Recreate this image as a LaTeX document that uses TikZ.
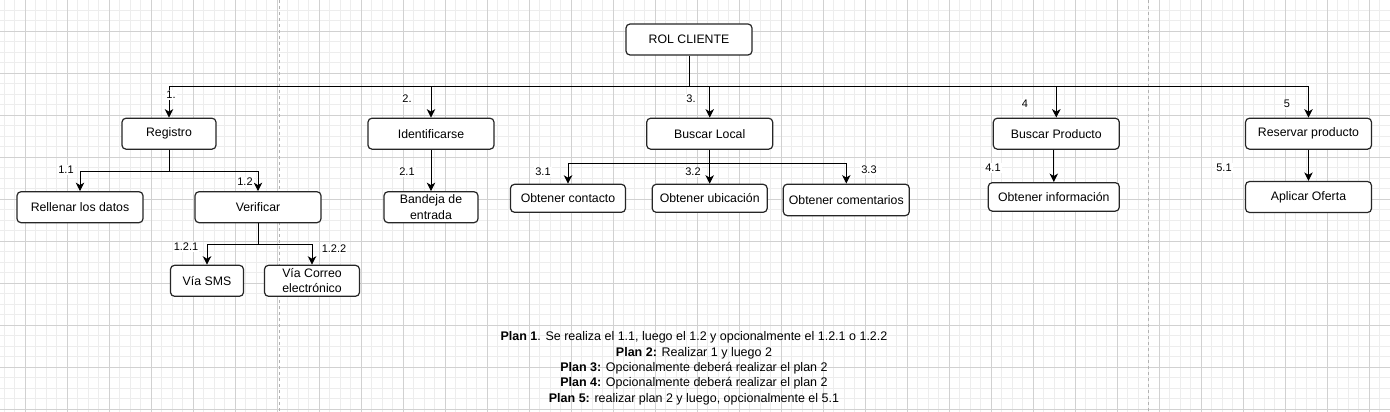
\documentclass[tikz,border=0pt]{standalone}
\usepackage{fontspec}
\setmainfont{Liberation Sans}
\usetikzlibrary{arrows.meta}

\begin{document}
\begin{tikzpicture}[x=1pt, y=-1pt, font=\fontsize{12.3}{15.4}\selectfont]
 % --- スタイルを定義 ---
 \tikzset{
    tarea/.style={
        rectangle,
        draw=black!85,
        line width=1.2pt,
        rounded corners=4pt,
        fill=white,
        minimum width=126pt,
        minimum height=31pt,
        inner sep=0pt,
        align=center
    },
    flecha/.style={
        draw=black,
        line width=1pt,
        -{Stealth[length=8.5pt, width=8.5pt, inset=2.5pt]}
    },
    linea/.style={
        draw=black,
        line width=1pt
    },
    etiqueta/.style={
        fill=white,
        inner sep=1pt,
        font=\fontsize{11}{13}\selectfont
    },
    menor/.style={draw=black!7, line width=0.8pt},
    mayor/.style={draw=black!18, line width=0.8pt},
    pagina/.style={draw=black!30, line width=1pt, dash pattern=on 3pt off 3pt}
 }

 % --- 背景(グリッド) ---
 \useasboundingbox (0,0) rectangle (1390,412);
 \fill[white] (0,0) rectangle (1390,412);
 \foreach \i in {0,...,132} \draw[menor] ({4+10.5*\i},0) -- ({4+10.5*\i},412);
 \foreach \j in {0,...,40} \draw[menor] (0,{-0.2+10.5*\j}) -- (1390,{-0.2+10.5*\j});
 \foreach \k in {0,...,32} \draw[mayor] ({25+42*\k},0) -- ({25+42*\k},412);
 \foreach \k in {0,...,9} \draw[mayor] (0,{31.3+42*\k}) -- (1390,{31.3+42*\k});
 % ページ区切り
 \draw[pagina] (279,0) -- (279,412);
 \draw[pagina] (1148,0) -- (1148,412);

 % --- タスクを配置 ---
 \node[tarea] (Rol) at (689,39.5) {ROL CLIENTE};

 % 第1レベル
 \node[tarea, minimum width=94pt] (Registro) at (169,133.7) {Registro};
 \node[tarea] (Identificarse) at (431,133.7) {Identificarse};
 \node[tarea] (BuscarLocal) at (709.7,133.7) {Buscar Local};
 \node[tarea] (BuscarProducto) at (1056.3,133.7) {Buscar Producto};
 \node[tarea] (Reservar) at (1308.5,133.7) {Reservar producto};

 % 第2レベル
 \node[tarea] (Rellenar) at (80,207.2) {Rellenar los datos};
 \node[tarea] (Verificar) at (258,207.2) {Verificar};
 \node[tarea, minimum width=94pt] (Bandeja) at (431,207.2) {Bandeja de\\entrada};
 \node[tarea, minimum width=115pt, minimum height=28pt] (Contacto) at (568,198.3) {Obtener contacto};
 \node[tarea, minimum width=115pt, minimum height=28pt] (Ubicacion) at (709.7,198.3) {Obtener ubicación};
 \node[tarea, minimum height=31.5pt] (Comentarios) at (846.3,199.9) {Obtener comentarios};
 \node[tarea, minimum width=131pt, minimum height=28.5pt] (Informacion) at (1053.8,196.9) {Obtener información};
 \node[tarea] (Oferta) at (1308.5,197) {Aplicar Oferta};

 % 第3レベル
 \node[tarea, minimum width=73pt] (SMS) at (207,280.8) {Vía SMS};
 \node[tarea, minimum width=95pt] (Correo) at (312,280.8) {Vía Correo\\electrónico};

 % --- 接続線を描画 ---
 \coordinate (bus) at (689,87);
 \draw[linea] (Rol.south) -- (bus);
 \foreach \hijo in {Registro, Identificarse, BuscarLocal, BuscarProducto, Reservar}
    \draw[flecha] (bus) -| (\hijo.north);

 \coordinate (busR) at (169,171);
 \draw[linea] (Registro.south) -- (busR);
 \foreach \hijo in {Rellenar, Verificar}
    \draw[flecha] (busR) -| (\hijo.north);

 \coordinate (busV) at (258,244.3);
 \draw[linea] (Verificar.south) -- (busV);
 \foreach \hijo in {SMS, Correo}
    \draw[flecha] (busV) -| (\hijo.north);

 \draw[flecha] (Identificarse) -- (Bandeja);

 \coordinate (busL) at (709.7,163.3);
 \draw[linea] (BuscarLocal.south) -- (busL);
 \foreach \hijo in {Contacto, Ubicacion, Comentarios}
    \draw[flecha] (busL) -| (\hijo.north);

 \draw[flecha] (BuscarProducto.south -| Informacion.north) -- (Informacion.north);
 \draw[flecha] (Reservar) -- (Oferta);

 % --- 番号 ---
 \node[etiqueta] (n1) at (171,95) {1.};
 \node[etiqueta] (n2) at (407,99) {2.};
 \node[etiqueta] (n3) at (691,99) {3.};
 \node[etiqueta] (n4) at (1025,104) {4};
 \node[etiqueta] (n5) at (1287,104) {5};
 \node[etiqueta] (n11) at (66,170) {1.1};
 \node[etiqueta] (n12) at (245,182) {1.2};
 \node[etiqueta] (n121) at (186,247) {1.2.1};
 \node[etiqueta] (n122) at (334,249) {1.2.2};
 \node[etiqueta] (n21) at (407,172) {2.1};
 \node[etiqueta] (n31) at (543,172) {3.1};
 \node[etiqueta] (n32) at (693,172) {3.2};
 \node[etiqueta] (n33) at (869,170) {3.3};
 \node[etiqueta] (n41) at (993,168) {4.1};
 \node[etiqueta] (n51) at (1224,168) {5.1};

 % --- プラン ---
 \node[align=center, inner sep=0pt, font=\fontsize{12.5}{15.4}\selectfont] (Planes) at (694,368.2) {%
    \textbf{Plan 1}. Se realiza el 1.1, luego el 1.2 y opcionalmente el 1.2.1 o 1.2.2\\
    \textbf{Plan 2:} Realizar 1 y luego 2\\
    \textbf{Plan 3:} Opcionalmente deberá realizar el plan 2\\
    \textbf{Plan 4:} Opcionalmente deberá realizar el plan 2\\
    \textbf{Plan 5:} realizar plan 2 y luego, opcionalmente el 5.1};
\end{tikzpicture}
\end{document}
